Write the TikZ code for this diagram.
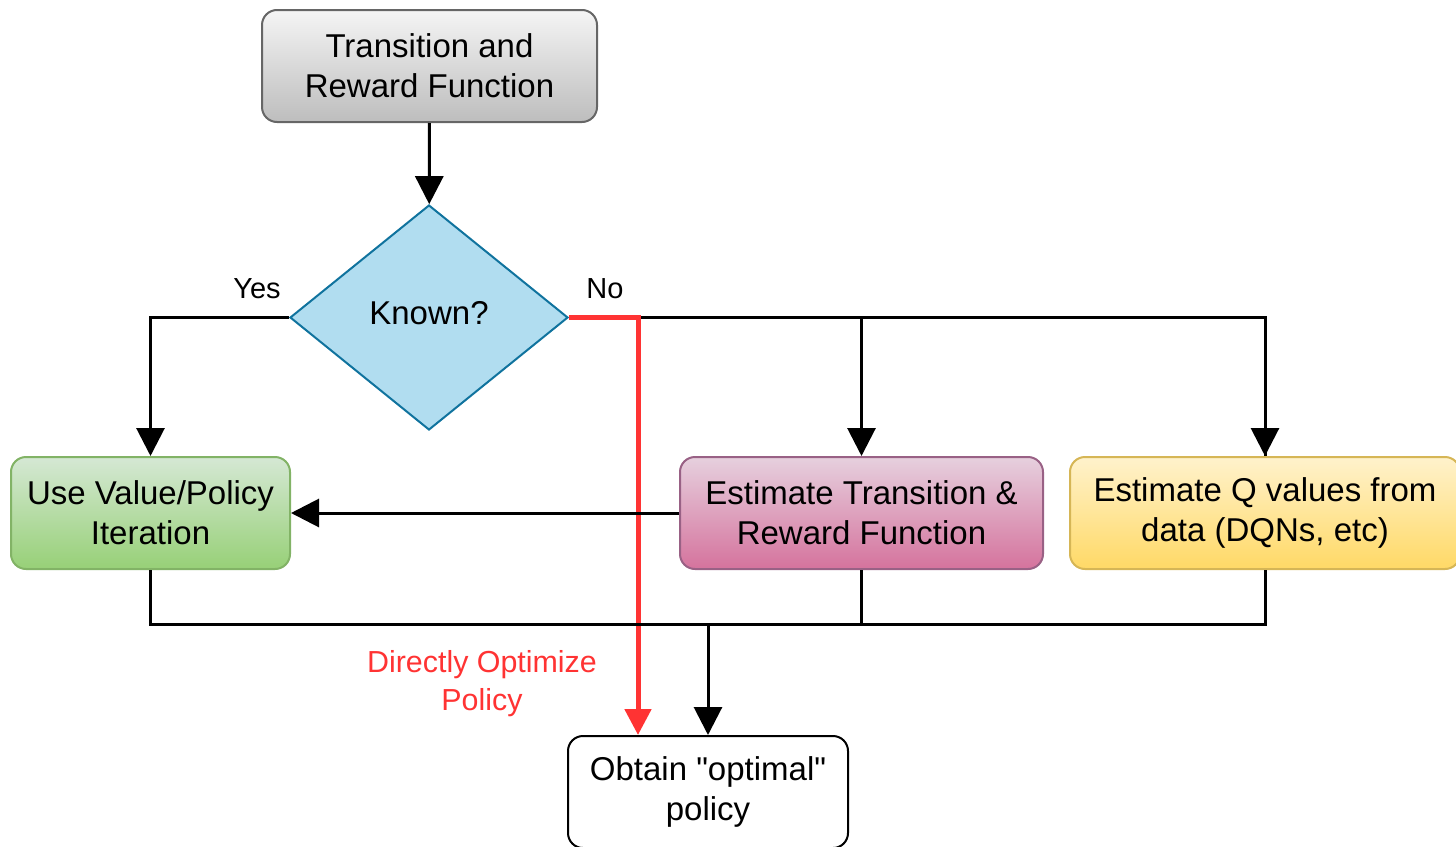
\documentclass[tikz,border=0pt]{standalone}
\usepackage{fontspec}
\setmainfont{Liberation Sans}
% same family without the TeX input mapping, so " stays a straight quote
\newfontfamily\rawsans{Liberation Sans}[Ligatures=ResetAll]
\usetikzlibrary{shapes.geometric,arrows.meta}

\definecolor{grayTop}{HTML}{F5F5F5}
\definecolor{grayBot}{HTML}{BDBDBD}
\definecolor{grayLine}{HTML}{666666}
\definecolor{blueFill}{HTML}{B1DDF0}
\definecolor{blueLine}{HTML}{10739E}
\definecolor{greenTop}{HTML}{D5E8D4}
\definecolor{greenBot}{HTML}{97D077}
\definecolor{greenLine}{HTML}{82B366}
\definecolor{pinkTop}{HTML}{E6D0DE}
\definecolor{pinkBot}{HTML}{D5739D}
\definecolor{pinkLine}{HTML}{996185}
\definecolor{yellowTop}{HTML}{FFF2CC}
\definecolor{yellowBot}{HTML}{FFD966}
\definecolor{yellowLine}{HTML}{D6B656}
\definecolor{hotRed}{HTML}{FF3333}

\tikzset{
  box/.style={rounded corners=7.5pt, line width=1pt, align=center,
    font=\fontsize{16.5}{20}\selectfont, minimum height=56pt, inner sep=0pt},
  decision/.style={diamond, line width=1pt, align=center, inner sep=0pt,
    font=\fontsize{16.5}{20}\selectfont, minimum width=139pt, minimum height=112.5pt,
    fill=blueFill, draw=blueLine},
  wire/.style={line width=1.5pt, black},
  conn/.style={wire, -{Triangle[length=14pt,width=14pt]}},
  redconn/.style={line width=2.5pt, hotRed, -{Triangle[length=13pt,width=13pt]}},
  lbl/.style={font=\fontsize{14.5}{18}\selectfont, inner sep=0pt},
}

\begin{document}
\begin{tikzpicture}[x=0.5pt,y=-0.5pt]
\useasboundingbox (0,0) rectangle (1456,846);
\clip (0,0) rectangle (1456,846);

% nodes
\node[box, minimum width=167.5pt, top color=grayTop, bottom color=grayBot, draw=grayLine]
  (src) at (429.5,66) {Transition and\\Reward Function};
\node[decision] (known) at (429,317.5) {};
\node[font=\fontsize{16.5}{20}\selectfont, inner sep=0pt] (knowntxt) at (429,313) {Known?};
\node[box, minimum width=139.5pt, top color=greenTop, bottom color=greenBot, draw=greenLine]
  (vpi) at (150.5,513) {Use Value/Policy\\Iteration};
\node[box, minimum width=181.5pt, top color=pinkTop, bottom color=pinkBot, draw=pinkLine]
  (est) at (861.5,513) {Estimate Transition \&\\Reward Function};
\node[box, minimum width=195pt, top color=yellowTop, bottom color=yellowBot, draw=yellowLine]
  (qv) at (1265,513) {Estimate Q values from\\data (DQNs, etc)};
\node[box, minimum width=140pt, fill=white, draw=black]
  (opt) at (708,792) {\rawsans Obtain "optimal"\\policy};

% branch labels
\node[lbl] (yes) at (257,289) {Yes};
\node[lbl] (no) at (605,289) {No};
\node[font=\fontsize{15.2}{19}\selectfont, text=hotRed, align=center, inner sep=0pt]
  (direct) at (482,684) {Directly Optimize\\Policy};

% helper points
\coordinate (split) at (638,317.5);
\coordinate (merge) at (708,624);

% connectors
\draw[conn] (src) -- (known);
\draw[conn] (known.west) -| (vpi.north);
\draw[wire] (split) -| (qv.north);
\draw[conn] (est.north |- split) -- (est.north);
\draw[conn] (qv.north |- split) -- (qv.north);
\draw[redconn] (known.east) -- (split) -- (split |- opt.north);
\draw[conn] (est.west) -- (vpi.east);
\draw[wire] (vpi.south) |- (merge) -| (qv.south);
\draw[wire] (est.south) -- (est.south |- merge);
\draw[conn] (merge) -- (opt.north);
\end{tikzpicture}
\end{document}
